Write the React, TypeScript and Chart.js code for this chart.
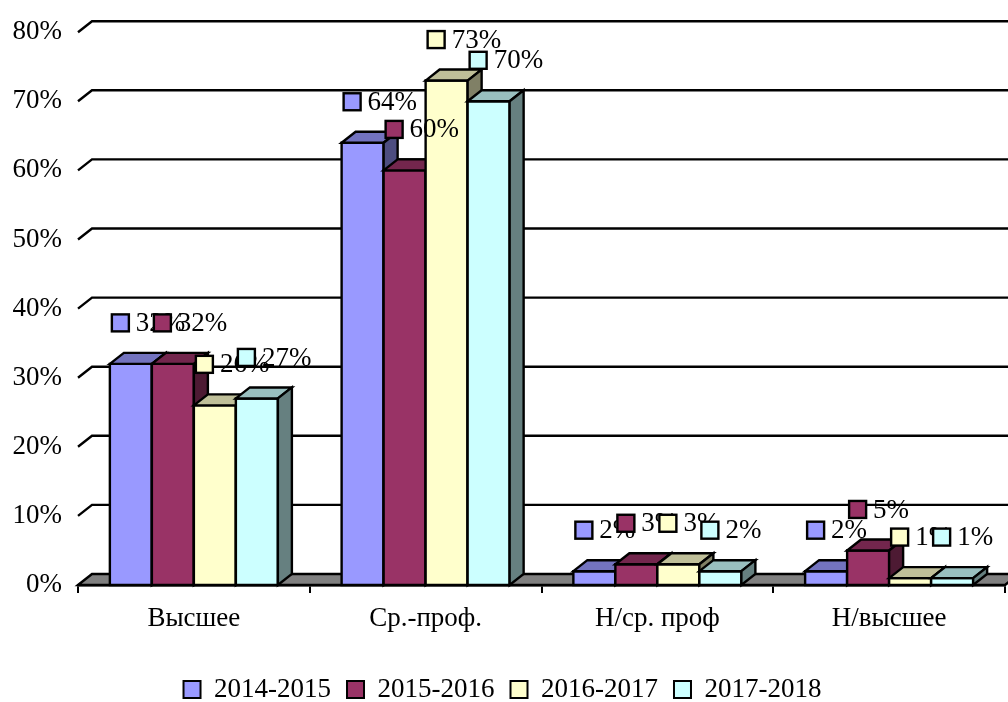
import { useEffect, useRef } from "react";
import { Chart, registerables } from "chart.js";

Chart.register(...registerables);

// ---- data ----
const categories = ["Высшее", "Ср.-проф.", "Н/ср. проф", "Н/высшее"];
const seriesNames = ["2014-2015", "2015-2016", "2016-2017", "2017-2018"];
const values2014 = [32, 64, 2, 2];
const values2015 = [32, 60, 3, 5];
const values2016 = [26, 73, 3, 1];
const values2017 = [27, 70, 2, 1];
const yTickValues = [0, 10, 20, 30, 40, 50, 60, 70, 80];

// ---- styles ----
const frontColors = ["#9999FF", "#993366", "#FFFFCC", "#CCFFFF"];
const FONT = "'Liberation Serif', 'Times New Roman', serif";
const DEPTH_X = 14;
const DEPTH_Y = 11;

function shade(hex: string, f: number): string {
  const n = parseInt(hex.slice(1), 16);
  const r = Math.round(((n >> 16) & 255) * f);
  const g = Math.round(((n >> 8) & 255) * f);
  const b = Math.round((n & 255) * f);
  return `rgb(${r},${g},${b})`;
}

function poly(ctx: CanvasRenderingContext2D, pts: number[][], fill: string) {
  ctx.beginPath();
  ctx.moveTo(pts[0][0], pts[0][1]);
  for (let i = 1; i < pts.length; i++) ctx.lineTo(pts[i][0], pts[i][1]);
  ctx.closePath();
  ctx.fillStyle = fill;
  ctx.fill();
  ctx.stroke();
}

const bars3d = {
  id: "bars3d",
  beforeDatasetsDraw(chart: any) {
    const ctx: CanvasRenderingContext2D = chart.ctx;
    const area = chart.chartArea;
    const yScale = chart.scales.y;
    ctx.save();
    ctx.strokeStyle = "#000";
    ctx.lineWidth = 2.4;
    ctx.lineJoin = "miter";
    // back wall gridlines
    yTickValues.forEach((v) => {
      if (v === 0) return;
      const y = yScale.getPixelForValue(v);
      ctx.beginPath();
      ctx.moveTo(area.left, y);
      ctx.lineTo(area.left + DEPTH_X, y - DEPTH_Y);
      ctx.lineTo(chart.width + 5, y - DEPTH_Y);
      ctx.stroke();
    });
    // floor
    const y0 = yScale.getPixelForValue(0);
    poly(
      ctx,
      [
        [area.left, y0],
        [area.left + DEPTH_X, y0 - DEPTH_Y],
        [area.right + DEPTH_X, y0 - DEPTH_Y],
        [area.right, y0],
      ],
      "#808080"
    );
    // bars: category by category, series left to right
    const nCat = categories.length;
    for (let j = 0; j < nCat; j++) {
      chart.data.datasets.forEach((ds: any, i: number) => {
        const el = chart.getDatasetMeta(i).data[j];
        const { x, y, base, width } = el.getProps(["x", "y", "base", "width"], true);
        const xl = x - width / 2;
        const xr = x + width / 2;
        const col = frontColors[i];
        poly(ctx, [[xl, y], [xr, y], [xr, base], [xl, base]], col);
        poly(
          ctx,
          [[xl, y], [xl + DEPTH_X, y - DEPTH_Y], [xr + DEPTH_X, y - DEPTH_Y], [xr, y]],
          shade(col, 0.75)
        );
        poly(
          ctx,
          [[xr, y], [xr + DEPTH_X, y - DEPTH_Y], [xr + DEPTH_X, base - DEPTH_Y], [xr, base]],
          shade(col, 0.5)
        );
      });
    }
    ctx.restore();
    return false;
  },
  afterDraw(chart: any) {
    const ctx: CanvasRenderingContext2D = chart.ctx;
    ctx.save();
    ctx.font = `27px ${FONT}`;
    ctx.textBaseline = "middle";
    ctx.textAlign = "left";
    ctx.lineWidth = 2.4;
    ctx.strokeStyle = "#000";
    const sq = 17;
    const gap = 7;
    chart.data.datasets.forEach((ds: any, i: number) => {
      chart.getDatasetMeta(i).data.forEach((el: any, j: number) => {
        const { x, y, width } = el.getProps(["x", "y", "width"], true);
        const text = `${ds.data[j]}%`;
        const left = x - width / 2 + 2;
        const cy = y - DEPTH_Y - 30;
        ctx.fillStyle = frontColors[i];
        ctx.fillRect(left, cy - sq / 2, sq, sq);
        ctx.strokeRect(left, cy - sq / 2, sq, sq);
        ctx.fillStyle = "#000";
        ctx.fillText(text, left + sq + gap, cy + 1);
      });
    });
    ctx.restore();
  },
};

export default function App() {
  const ref = useRef<HTMLCanvasElement | null>(null);
  useEffect(() => {
    if (!ref.current) return;
    const seriesValues = [values2014, values2015, values2016, values2017];
    const chart = new Chart(ref.current, {
      type: "bar",
      data: {
        labels: categories,
        datasets: seriesNames.map((name, i) => ({
          label: name,
          data: seriesValues[i],
          backgroundColor: frontColors[i],
          borderColor: "#000",
          borderWidth: 2,
          categoryPercentage: 0.725,
          barPercentage: 1,
        })),
      },
      options: {
        animation: false,
        responsive: false,
        maintainAspectRatio: false,
        layout: { padding: { top: 28, right: 3, left: 0, bottom: -11 } },
        scales: {
          x: {
            offset: true,
            grid: {
              display: true,
              drawOnChartArea: false,
              drawTicks: true,
              tickLength: 8,
              color: "#000",
              lineWidth: 2,
              offset: true,
            },
            border: { display: true, color: "#000", width: 2.4 },
            ticks: {
              color: "#000",
              font: { family: FONT, size: 27 },
              padding: 10,
              maxRotation: 0,
            },
            afterFit: (s: any) => {
              s.height = 75;
            },
          },
          y: {
            min: 0,
            max: 80,
            afterBuildTicks: (s: any) => {
              s.ticks = yTickValues.map((v) => ({ value: v }));
            },
            ticks: {
              color: "#000",
              font: { family: FONT, size: 27 },
              padding: 16,
              callback: (v: any) => `${v}%`,
            },
            grid: { display: false, drawTicks: false },
            border: { display: false },
            afterFit: (s: any) => {
              s.width = 78;
            },
          },
        },
        plugins: {
          legend: {
            position: "bottom",
            labels: {
              boxWidth: 17,
              boxHeight: 17,
              padding: 16,
              color: "#000",
              font: { family: FONT, size: 27 },
            },
          },
          tooltip: { enabled: false },
        },
      },
      plugins: [bars3d],
    });
    return () => chart.destroy();
  }, []);
  return (
    <div style={{ position: "fixed", left: 0, top: 0, width: 1008, height: 702, background: "#fff" }}>
      <canvas ref={ref} width={1008} height={702} style={{ width: 1008, height: 702, display: "block" }} />
    </div>
  );
}
